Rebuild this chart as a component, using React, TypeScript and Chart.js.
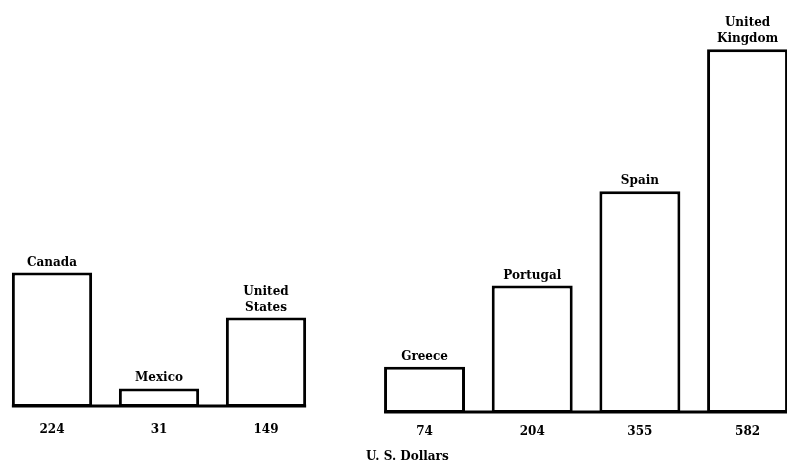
import React, { useEffect, useRef } from "react";
import { Chart, registerables } from "chart.js";

Chart.register(...registerables);

// ---- data ----
const leftCountries: (string | string[])[] = ["Canada", "Mexico", ["United", "States"]];
const leftValues = [224, 31, 149];
const rightCountries: (string | string[])[] = ["Greece", "Portugal", "Spain", ["United", "Kingdom"]];
const rightValues = [74, 204, 355, 582];
const axisTitle = "U. S. Dollars";
const yMax = 600;

const FONT = "'DejaVu Serif', 'Liberation Serif', serif";

function makeLabelPlugin(valueOffset: number) {
  return {
    id: "barLabels",
    afterDatasetsDraw(chart: any) {
      const ctx = chart.ctx as CanvasRenderingContext2D;
      const meta = chart.getDatasetMeta(0);
      const labels = chart.data.labels as (string | string[])[];
      const values = chart.data.datasets[0].data as number[];
      const bottom = chart.chartArea.bottom;
      ctx.save();
      ctx.fillStyle = "#000";
      ctx.strokeStyle = "#000";
      // baseline
      const first = meta.data[0];
      const last = meta.data[meta.data.length - 1];
      ctx.lineWidth = 3;
      ctx.beginPath();
      ctx.moveTo(first.x - first.width / 2, bottom - 1);
      ctx.lineTo(last.x + last.width / 2, bottom - 1);
      ctx.stroke();
      ctx.font = `bold 12px ${FONT}`;
      ctx.textAlign = "center";
      meta.data.forEach((bar: any, i: number) => {
        const lbl = labels[i];
        const lines = Array.isArray(lbl) ? lbl : [lbl];
        ctx.textBaseline = "alphabetic";
        lines.forEach((ln, j) => {
          ctx.fillText(ln, bar.x, bar.y - 7 - (lines.length - 1 - j) * 16);
        });
        ctx.textBaseline = "middle";
        ctx.fillText(String(values[i]), bar.x, bottom + valueOffset);
      });
      ctx.restore();
    },
  };
}

function BarGroup(props: {
  labels: (string | string[])[];
  values: number[];
  left: number;
  width: number;
  padding: { left: number; right: number; top: number; bottom: number };
  barPct: number;
  valueOffset: number;
}) {
  const ref = useRef<HTMLCanvasElement | null>(null);
  useEffect(() => {
    if (!ref.current) return;
    const chart = new Chart(ref.current, {
      type: "bar",
      data: {
        labels: props.labels as any,
        datasets: [
          {
            data: props.values,
            backgroundColor: "#fff",
            borderColor: "#000",
            borderWidth: 3,
            borderSkipped: false,
            categoryPercentage: 1,
            barPercentage: props.barPct,
          },
        ],
      },
      options: {
        responsive: false,
        animation: false,
        layout: { padding: props.padding },
        plugins: { legend: { display: false }, tooltip: { enabled: false } },
        scales: {
          x: { display: false },
          y: { display: false, min: 0, max: yMax },
        },
      },
      plugins: [makeLabelPlugin(props.valueOffset)],
    });
    return () => chart.destroy();
  }, []);
  return (
    <canvas
      ref={ref}
      width={props.width}
      height={468}
      style={{ position: "absolute", left: props.left, top: 0, width: props.width, height: 468 }}
    />
  );
}

export default function App() {
  return (
    <div
      style={{
        position: "fixed",
        left: 0,
        top: 0,
        width: 787,
        height: 468,
        overflow: "hidden",
        background: "#fff",
      }}
    >
      <BarGroup
        labels={leftCountries}
        values={leftValues}
        left={-10}
        width={340}
        padding={{ left: 8.5, right: 10.5, top: 47, bottom: 61 }}
        barPct={0.75}
        valueOffset={23}
      />
      <BarGroup
        labels={rightCountries}
        values={rightValues}
        left={360}
        width={450}
        padding={{ left: 10.7, right: 8.6, top: 38, bottom: 55 }}
        barPct={0.752}
        valueOffset={19}
      />
      <div
        style={{
          position: "absolute",
          left: 366,
          top: 450,
          font: `bold 12px ${FONT}`,
          lineHeight: "12px",
          color: "#000",
          whiteSpace: "nowrap",
        }}
      >
        {axisTitle}
      </div>
    </div>
  );
}
